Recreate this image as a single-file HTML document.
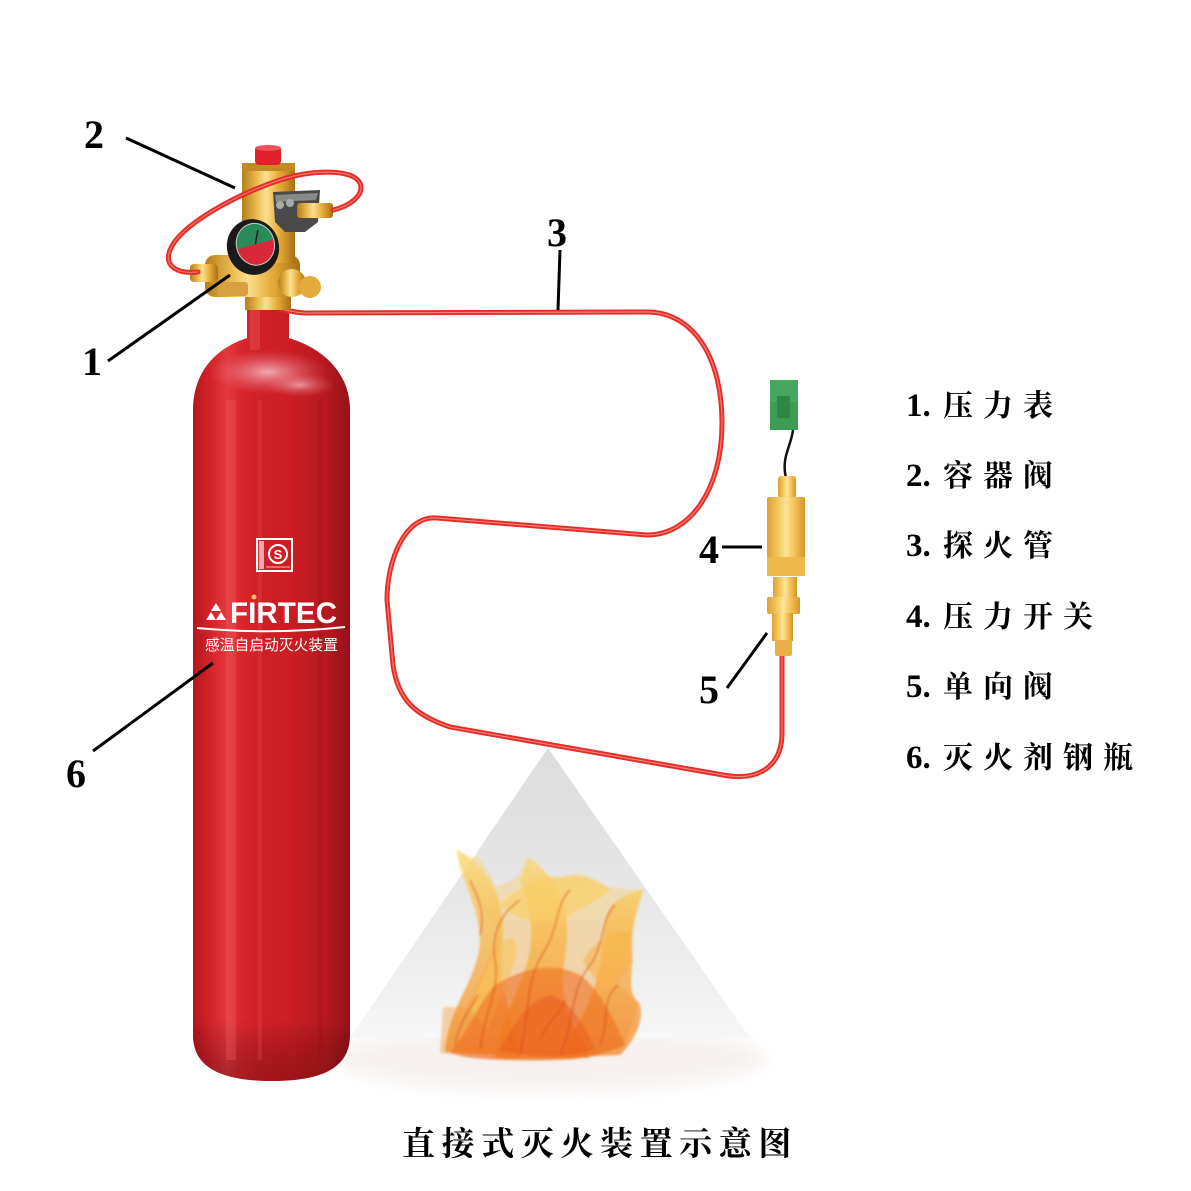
<!DOCTYPE html>
<html><head><meta charset="utf-8"><style>
html,body{margin:0;padding:0;background:#fff;}
svg{display:block;}
</style></head><body>
<svg width="1191" height="1191" viewBox="0 0 1191 1191" xmlns="http://www.w3.org/2000/svg">
<defs>
<linearGradient id="cyl" x1="193" y1="0" x2="350" y2="0" gradientUnits="userSpaceOnUse">
<stop offset="0" stop-color="#b3161d"/><stop offset="0.1" stop-color="#d22128"/><stop offset="0.22" stop-color="#e3383d"/><stop offset="0.3" stop-color="#d8272d"/><stop offset="0.45" stop-color="#cf1f26"/><stop offset="0.62" stop-color="#cb1d23"/><stop offset="0.85" stop-color="#b6191f"/><stop offset="1" stop-color="#941318"/>
</linearGradient>
<linearGradient id="cylbot" x1="0" y1="1020" x2="0" y2="1083" gradientUnits="userSpaceOnUse">
<stop offset="0" stop-color="#000" stop-opacity="0"/><stop offset="1" stop-color="#5a0a0e" stop-opacity="0.4"/>
</linearGradient>
<radialGradient id="shine" cx="0.5" cy="0.5" r="0.5">
<stop offset="0" stop-color="#f4b8bf" stop-opacity="0.9"/><stop offset="1" stop-color="#e56a74" stop-opacity="0"/>
</radialGradient>
<linearGradient id="gold" x1="0" y1="0" x2="1" y2="0">
<stop offset="0" stop-color="#b67c18"/><stop offset="0.3" stop-color="#eec055"/><stop offset="0.45" stop-color="#fbe08e"/><stop offset="0.7" stop-color="#e6ac3a"/><stop offset="1" stop-color="#a96f14"/>
</linearGradient>
<linearGradient id="gold2" x1="0" y1="0" x2="1" y2="0">
<stop offset="0" stop-color="#e0a030"/><stop offset="0.35" stop-color="#f7cf6a"/><stop offset="0.5" stop-color="#fde59a"/><stop offset="0.75" stop-color="#f2bd52"/><stop offset="1" stop-color="#d59528"/>
</linearGradient>
<linearGradient id="tri" x1="0" y1="748" x2="0" y2="1040" gradientUnits="userSpaceOnUse">
<stop offset="0" stop-color="#dcdcdc"/><stop offset="0.5" stop-color="#e7e7e7"/><stop offset="0.85" stop-color="#f1f1f1"/><stop offset="1" stop-color="#f8f8f8"/>
</linearGradient>
<linearGradient id="flame" x1="0" y1="850" x2="0" y2="1060" gradientUnits="userSpaceOnUse">
<stop offset="0" stop-color="#fbdc78"/><stop offset="0.4" stop-color="#f8b848"/><stop offset="1" stop-color="#f18526"/>
</linearGradient>
<filter id="blur1" x="-20%" y="-20%" width="140%" height="140%"><feGaussianBlur stdDeviation="1.1"/></filter>
<filter id="blur2" x="-30%" y="-30%" width="160%" height="160%"><feGaussianBlur stdDeviation="8"/></filter>
</defs>

<!-- fire cone -->
<ellipse cx="550" cy="1058" rx="215" ry="32" fill="#f6f1ee" filter="url(#blur2)"/>
<polygon points="548,748 350,1038 750,1038" fill="url(#tri)"/>

<!-- flame -->
<g filter="url(#blur1)">
<polygon fill="url(#flame)" opacity="0.4" points="457,855 480,857 497,887 517,877 527,857 533,873 557,877 580,873 607,887 643,890 633,930 633,963 617,983 640,1003 623,1047 573,1060 507,1060 440,1053 443,1007 467,1007 487,963 497,930 473,897 460,870"/>
<path fill="url(#flame)" opacity="0.75" d="M445,1052 C448,1010 470,990 478,955 C485,925 470,900 462,870 C458,858 455,852 458,850 C475,860 495,880 500,905 C508,935 495,965 505,995 C512,1020 515,1040 520,1056 Z"/>
<path fill="url(#flame)" opacity="0.75" d="M495,1058 C500,1020 520,990 528,960 C535,935 530,905 520,880 C525,870 530,860 528,856 C545,870 560,885 565,910 C572,940 558,970 565,1000 C570,1025 585,1045 590,1058 Z"/>
<path fill="url(#flame)" opacity="0.75" d="M560,1058 C575,1030 590,1005 598,975 C605,950 600,925 612,905 C622,895 635,892 644,889 C638,905 630,925 632,955 C634,975 625,990 640,1005 C645,1025 630,1045 620,1055 Z"/>
<path fill="#f9cf66" opacity="0.7" d="M500,905 C515,890 540,875 560,878 C580,872 600,880 610,890 C600,900 585,905 570,915 C550,925 520,925 500,905 Z"/>
<path fill="#f9c75a" opacity="0.6" d="M470,1010 C478,985 490,965 500,945 C512,930 520,940 515,960 C508,985 495,1005 488,1030 Z"/>
<path fill="#f7b548" opacity="0.55" d="M583,960 C595,940 615,930 632,932 C628,950 620,968 612,990 C600,985 590,975 583,960 Z"/>
<path fill="#ee6a1c" opacity="0.55" d="M450,1052 C470,1030 480,1000 495,985 C520,970 550,960 580,975 C600,990 612,1015 625,1045 C600,1058 560,1062 510,1060 C480,1060 460,1058 450,1052 Z"/>
<path fill="#e8561a" opacity="0.45" d="M500,1050 C515,1020 530,1000 550,995 C570,1000 585,1025 595,1050 C570,1058 530,1058 500,1050 Z"/>
<g fill="none" stroke="#d8431a" stroke-width="1.6" opacity="0.55">
<path d="M480,1050 C485,1010 500,990 495,960 C490,930 505,910 520,900"/>
<path d="M520,1055 C530,1010 525,980 545,950 C560,925 555,905 570,890"/>
<path d="M560,1055 C575,1020 570,990 590,965 C605,945 600,920 615,905"/>
<path d="M600,1045 C610,1020 600,1000 618,985"/>
<path d="M455,1045 C460,1020 470,1010 478,995"/>
<path d="M470,880 C480,900 485,915 480,935"/>
<path d="M540,1040 C548,1020 560,1015 565,1000"/>
</g>
</g>

<!-- cylinder -->
<path d="M247,308 L289,308 L289,338 C322,348 350,372 350,410 L350,1035 C350,1068 322,1081 272,1081 C222,1081 193,1068 193,1035 L193,410 C193,372 216,348 247,338 Z" fill="url(#cyl)"/>
<path d="M193,1020 L350,1020 L350,1035 C350,1068 322,1081 272,1081 C222,1081 193,1068 193,1035 Z" fill="url(#cylbot)"/>
<rect x="226" y="400" width="10" height="660" fill="#ee5a5e" opacity="0.35"/>
<rect x="258" y="400" width="4" height="660" fill="#e24b50" opacity="0.3"/>
<rect x="318" y="400" width="5" height="660" fill="#8e1015" opacity="0.2"/>
<ellipse cx="268" cy="372" rx="60" ry="22" fill="url(#shine)"/>
<ellipse cx="300" cy="385" rx="35" ry="12" fill="url(#shine)" opacity="0.8"/>
<rect x="250" y="310" width="10" height="40" fill="#e85a60" opacity="0.4"/>

<!-- cylinder labels -->
<rect x="257" y="539" width="35" height="32" fill="none" stroke="#fff" stroke-width="2"/>
<rect x="259" y="541" width="5" height="28" fill="#fff" opacity="0.6"/>
<circle cx="278" cy="554" r="9" fill="none" stroke="#fff" stroke-width="2"/>
<text x="278" y="559" font-family="Liberation Sans, sans-serif" font-weight="bold" font-size="13" fill="#fff" text-anchor="middle">S</text>
<line x1="266" y1="567" x2="290" y2="567" stroke="#fff" stroke-width="1" opacity="0.7"/>
<g fill="#fff">
<polygon points="216,603 221,611 211,611"/>
<polygon points="211,612 216,620 206,620"/>
<polygon points="221,612 226,620 216,620"/>
</g>
<text x="230" y="623" font-family="Liberation Sans, sans-serif" font-weight="bold" font-size="30" fill="#fff" textLength="107" lengthAdjust="spacingAndGlyphs">FIRTEC</text>
<circle cx="254" cy="597" r="2.5" fill="#f8c060"/>
<path d="M197,628 Q271,635 345,627" stroke="#fff" stroke-width="2" fill="none"/>
<text x="205" y="650" font-family="Liberation Sans, 'Noto Sans CJK SC', sans-serif" font-size="15" fill="#fff" textLength="133" lengthAdjust="spacingAndGlyphs">感温自启动灭火装置</text>

<!-- red tube main -->
<g fill="none" stroke-linecap="round">
<path d="M252,288 C262,300 275,311 305,313 L647,312 C692,312 722,355 722,423 C722,490 690,535 647,535 L437,518 C405,515 387,560 387,600 L393,665 C398,700 415,715 450,727 L723,775 C760,782 782,765 782,733 L782,655" stroke="#e42d27" stroke-width="5"/>
<path d="M252,288 C262,300 275,311 305,313 L647,312 C692,312 722,355 722,423 C722,490 690,535 647,535 L437,518 C405,515 387,560 387,600 L393,665 C398,700 415,715 450,727 L723,775 C760,782 782,765 782,733 L782,655" stroke="#f9938b" stroke-width="1.2" opacity="0.8"/>
</g>

<!-- valve assembly -->
<rect x="245" y="292" width="46" height="18" fill="url(#gold)"/>
<rect x="205" y="255" width="95" height="42" rx="10" fill="url(#gold)"/>
<rect x="190" y="264" width="28" height="18" rx="4" fill="url(#gold)"/>
<rect x="218" y="282" width="30" height="14" rx="3" fill="#d8a040"/>
<circle cx="292" cy="283" r="14" fill="url(#gold)"/>
<circle cx="310" cy="287" r="11" fill="#e3aa3c"/>
<rect x="242" y="163" width="53" height="100" fill="url(#gold)"/>
<rect x="242" y="163" width="53" height="8" fill="#c38a24"/>
<rect x="255" y="146" width="26" height="19" rx="4" fill="#e0202c"/>
<ellipse cx="268" cy="148" rx="13" ry="3" fill="#f0505a"/>
<path d="M273,192 L320,190 L318,222 L305,232 L285,232 L275,222 Z" fill="#4a4a4a"/>
<path d="M275,195 L318,193 L316,200 L276,202 Z" fill="#8a8a8a"/>
<circle cx="280" cy="205" r="4" fill="#aaa"/><circle cx="290" cy="203" r="4" fill="#aaa"/>
<rect x="297" y="203" width="36" height="15" rx="3" fill="url(#gold)"/>
<!-- loop tube -->
<path d="M333,210 C350,206 365,195 360,183 C352,168 310,170 280,180 C235,195 180,225 170,250 C163,268 180,274 198,272" fill="none" stroke="#e42d27" stroke-width="5" stroke-linecap="round"/>
<path d="M333,210 C350,206 365,195 360,183 C352,168 310,170 280,180 C235,195 180,225 170,250 C163,268 180,274 198,272" fill="none" stroke="#f9938b" stroke-width="1.2" opacity="0.7"/>
<!-- gauge -->
<g transform="rotate(-15 253 247)">
<ellipse cx="253" cy="247" rx="26" ry="28" fill="#1a1a1a"/>
<ellipse cx="256" cy="245" rx="19" ry="21" fill="#d8283a"/>
<path d="M237,245 A19,21 0 0 1 275,245 Z" fill="#2a8a5a"/>
<ellipse cx="256" cy="245" rx="19" ry="21" fill="none" stroke="#ccc" stroke-width="1"/>
<line x1="256" y1="245" x2="262" y2="232" stroke="#222" stroke-width="1.5"/>
</g>

<!-- pressure switch -->
<rect x="770" y="380" width="28" height="50" fill="#3d9d55"/>
<rect x="770" y="380" width="28" height="22" fill="#46a85e"/>
<rect x="777" y="396" width="13" height="22" fill="#2f8645"/>
<path d="M793,430 C791,447 781,457 786,478" fill="none" stroke="#111" stroke-width="2.5"/>
<rect x="778" y="476" width="18" height="22" rx="3" fill="url(#gold2)"/>
<rect x="767" y="497" width="38" height="61" rx="2" fill="url(#gold2)"/>
<rect x="767" y="557" width="38" height="19" fill="#efb84c"/>
<rect x="773" y="577" width="24" height="20" fill="url(#gold2)"/>
<rect x="767" y="597" width="33" height="17" rx="2" fill="url(#gold2)"/>
<rect x="772" y="613" width="21" height="28" fill="url(#gold2)"/>
<rect x="775" y="640" width="17" height="16" rx="2" fill="#eab048"/>

<!-- leader lines -->
<g stroke="#000" stroke-width="3" stroke-linecap="butt">
<line x1="126" y1="138" x2="235" y2="188"/>
<line x1="108" y1="361" x2="230" y2="275"/>
<line x1="560" y1="250" x2="558" y2="310"/>
<line x1="722" y1="547" x2="762" y2="547"/>
<line x1="727" y1="688" x2="767" y2="633"/>
<line x1="93" y1="751" x2="213" y2="663"/>
</g>
<g font-family="Liberation Serif, serif" font-weight="bold" font-size="40" fill="#000">
<text x="84" y="148">2</text>
<text x="82" y="375">1</text>
<text x="547" y="246">3</text>
<text x="699" y="563">4</text>
<text x="699" y="703">5</text>
<text x="66" y="787">6</text>
</g>

<!-- legend -->
<g font-family="Liberation Serif, 'Noto Serif CJK SC', serif" font-weight="bold" fill="#000">
<g font-size="33">
<text x="906" y="416">1.</text>
<text x="906" y="486">2.</text>
<text x="906" y="556">3.</text>
<text x="906" y="627">4.</text>
<text x="906" y="697">5.</text>
<text x="906" y="768">6.</text>
</g>
<g font-size="30" font-family="'Noto Serif CJK SC', serif">
<text x="943 983 1023" y="416">压力表</text>
<text x="943 983 1023" y="486">容器阀</text>
<text x="943 983 1023" y="556">探火管</text>
<text x="943 983 1023 1063" y="627">压力开关</text>
<text x="943 983 1023" y="697">单向阀</text>
<text x="943 983 1023 1063 1103" y="768">灭火剂钢瓶</text>
</g>
<text font-family="'Noto Serif CJK SC', serif" font-size="33" x="402 441.6 481.2 520.8 560.4 600 639.6 679.2 718.8 758.4" y="1155">直接式灭火装置示意图</text>
</g>
</svg>
</body></html>
